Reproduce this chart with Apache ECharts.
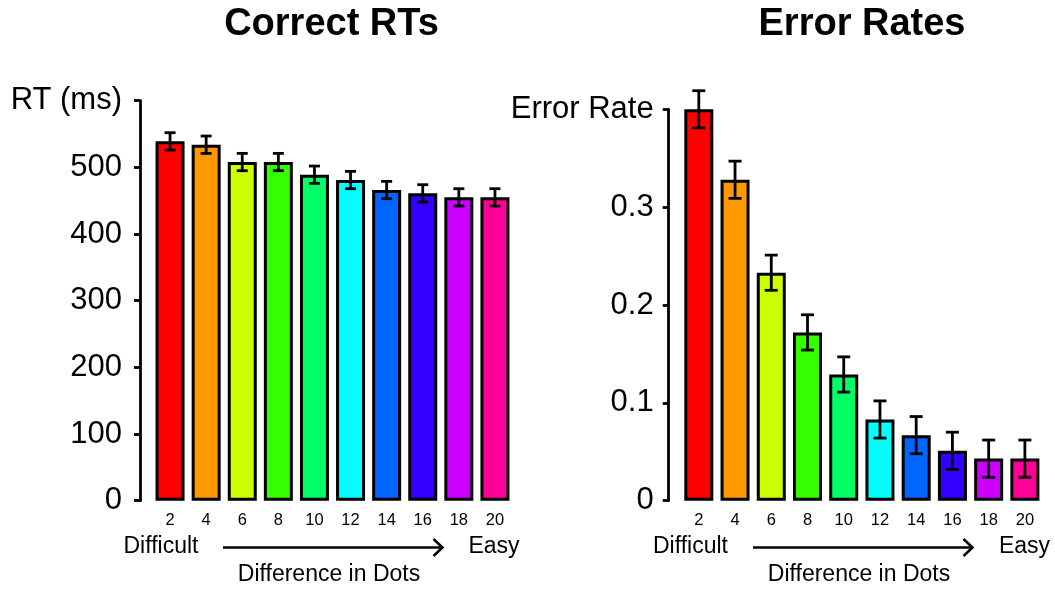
<!DOCTYPE html>
<html>
<head>
<meta charset="utf-8">
<script src="https://cdn.jsdelivr.net/npm/echarts@6/dist/echarts.min.js"></script>
<style>
html,body{margin:0;padding:0;background:#fff;}
#chart{width:1055px;height:590px;}
</style>
</head>
<body>
<div id="chart"></div>
<script>
// ---- data ----
var categories = ['2','4','6','8','10','12','14','16','18','20'];
var rtMeans = [539, 534, 508, 508, 489, 481, 466, 461, 455, 455];
var rtErr   = [13, 13, 13, 13, 13, 13, 13, 13, 13, 13];
var errMeans = [0.400, 0.328, 0.233, 0.172, 0.129, 0.083, 0.067, 0.051, 0.043, 0.043];
var errSE    = [0.019, 0.019, 0.018, 0.018, 0.018, 0.019, 0.019, 0.019, 0.019, 0.019];
var rtTicks  = {600: 'RT (ms)'};
var errTicks = {0.4: 'Error Rate'};
var barColors = ['#FF0000','#FF9900','#CCFF00','#33FF00','#00FF66','#00FFFF','#0066FF','#3300FF','#CC00FF','#FF0099'];

var FONT = '"Liberation Sans", Arial, sans-serif';

function barData(vals){
  return vals.map(function(v,i){ return {value:v, itemStyle:{color:barColors[i]}}; });
}
function errData(vals, errs){
  return vals.map(function(v,i){ return [i, v, errs[i]]; });
}
function errRender(capW){
  return function(params, api){
    var i = api.value(0), v = api.value(1), e = api.value(2);
    var hi = api.coord([i, v + e]);
    var lo = api.coord([i, v - e]);
    var w = capW/2;
    var st = {stroke:'#000', lineWidth:2.8};
    return {type:'group', children:[
      {type:'line', shape:{x1:hi[0], y1:hi[1], x2:lo[0], y2:lo[1]}, style:st},
      {type:'line', shape:{x1:hi[0]-w, y1:hi[1], x2:hi[0]+w, y2:hi[1]}, style:st},
      {type:'line', shape:{x1:lo[0]-w, y1:lo[1], x2:lo[0]+w, y2:lo[1]}, style:st}
    ]};
  };
}
function yAxisCfg(min, max, interval, map, margin, gridIndex){
  return {
    type:'value', gridIndex:gridIndex, min:min, max:max, interval:interval, offset:12,
    splitLine:{show:false},
    axisLine:{show:true, lineStyle:{color:'#000', width:2.8}},
    axisTick:{show:true, length:6, lineStyle:{color:'#000', width:2.8}},
    axisLabel:{color:'#000', fontSize:31, fontFamily:FONT, margin:margin,
      formatter:function(v){
        var k = Math.round(v*1000)/1000;
        if (map[k] !== undefined) return map[k];
        return String(k);
      }}
  };
}
function xAxisCfg(gridIndex){
  return {
    type:'category', gridIndex:gridIndex, data:categories,
    axisLine:{show:false}, axisTick:{show:false},
    axisLabel:{color:'#000', fontSize:16.5, fontFamily:FONT, margin:11, interval:0}
  };
}
function arrow(x1, x2, y){
  return [
    {type:'line', shape:{x1:x1, y1:y, x2:x2, y2:y}, style:{stroke:'#000', lineWidth:2.5}},
    {type:'polyline', shape:{points:[[x2-9, y-8.5],[x2, y],[x2-9, y+8.5]]}, style:{stroke:'#000', lineWidth:2.5, fill:null}}
  ];
}
function txt(x, y, s, size, bold){
  return {type:'text', x:x, y:y, style:{text:s, fill:'#000', font:(bold?'bold ':'')+size+'px '+FONT, textAlign:'center', textVerticalAlign:'middle'}};
}

var graphics = [
  txt(331.5, 25, 'Correct RTs', 38, true),
  txt(862, 25, 'Error Rates', 38, true),
  txt(161, 547, 'Difficult', 23),
  txt(494, 547, 'Easy', 23),
  txt(329, 575, 'Difference in Dots', 23),
  txt(690.5, 547, 'Difficult', 23),
  txt(1024.5, 547, 'Easy', 23),
  txt(859, 575, 'Difference in Dots', 23)
].concat(arrow(223, 442.5, 547.5)).concat(arrow(753, 972.5, 547.5));

var option = {
  animation:false,
  backgroundColor:'#fff',
  grid:[
    {left:152, width:361, top:100.7, height:400},
    {left:680.7, width:362.3, top:109.3, height:391.4}
  ],
  xAxis:[xAxisCfg(0), xAxisCfg(1)],
  yAxis:[yAxisCfg(0, 600, 100, rtTicks, 18, 0), yAxisCfg(0, 0.4, 0.1, errTicks, 15, 1)],
  series:[
    {type:'bar', xAxisIndex:0, yAxisIndex:0, data:barData(rtMeans), barWidth:29,
      itemStyle:{borderColor:'#000', borderWidth:3}},
    {type:'custom', xAxisIndex:0, yAxisIndex:0, data:errData(rtMeans, rtErr), renderItem:errRender(11), z:5},
    {type:'bar', xAxisIndex:1, yAxisIndex:1, data:barData(errMeans), barWidth:29,
      itemStyle:{borderColor:'#000', borderWidth:3}},
    {type:'custom', xAxisIndex:1, yAxisIndex:1, data:errData(errMeans, errSE), renderItem:errRender(13), z:5}
  ],
  graphic:graphics
};
var chart = echarts.init(document.getElementById('chart'), null, {renderer:'canvas'});
chart.setOption(option);
</script>
</body>
</html>
